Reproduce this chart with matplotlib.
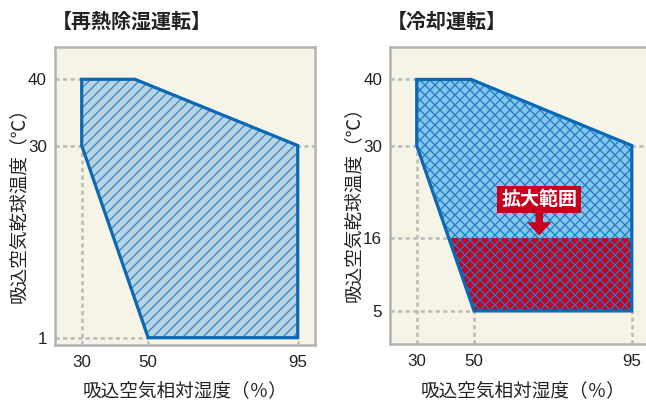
import numpy as np
import matplotlib
matplotlib.use('Agg')
import matplotlib.pyplot as plt
from matplotlib.patches import Polygon

# ---------------- data ----------------
titles = ['【再熱除湿運転】', '【冷却運転】']
ylabel = '吸込空気乾球温度（℃）'
xlabel = '吸込空気相対湿度（％）'

reheat_rh = [30, 46, 95, 95, 50, 30]
reheat_temp = [40, 40, 30, 1, 1, 30]
cool_rh = [30, 49, 95, 95, 50, 30]
cool_temp = [40, 40, 30, 5, 5, 30]
expanded_rh = [41.3, 95, 95, 50]
expanded_temp = [16, 16, 5, 5]

reheat_xticks = [30, 50, 95]
reheat_yticks = [1, 30, 40]
cool_xticks = [30, 50, 95]
cool_yticks = [5, 16, 30, 40]
callout_label = '拡大範囲'
full_guide_temp = 30   # guide line that runs across the whole panel

# ---------------- style ----------------
DPI = 120
W, H = 646, 402


def pt(px):
    return px * 72 / DPI


CJK = ['Noto Sans CJK JP', 'DejaVu Sans']
NUM = ['Liberation Sans', 'DejaVu Sans']
BG = '#F6F4E6'
SPINE = '#B4B4B4'
GRID = '#BCBCBC'
EDGE = '#0A68B4'
TXT = '#222222'
RED = '#C8001E'

fig = plt.figure(figsize=(W / DPI, H / DPI), dpi=DPI)
fig.patch.set_facecolor('white')

ax1 = fig.add_axes([55 / W, 1 - 345 / H, 260 / W, 298 / H])
ax2 = fig.add_axes([390 / W, 1 - 344 / H, 266 / W, 297 / H])

# right panel has a compressed 30-50 % range
XA = np.array([-1000.0, 30.0, 50.0, 95.0, 1000.0])
PA = np.array([416.7 - 1030 * 2.865, 416.7, 474.0, 631.7, 631.7 + 905 * 3.504])
ax2.set_xscale('function', functions=(lambda x: np.interp(x, XA, PA),
                                      lambda p: np.interp(p, PA, XA)))

ax1.set_xlim(21.96, 100.2)
ax1.set_ylim(-0.1, 44.87)
ax2.set_xlim(20.68, 101.9)
ax2.set_ylim(0.0, 44.9)


def style_axes(ax, xt, yt, lab_x_off, lab_y_off):
    ax.set_facecolor(BG)
    for s in ax.spines.values():
        s.set_color(SPINE)
        s.set_linewidth(pt(2.5))
    ax.set_xticks(xt)
    ax.set_yticks(yt)
    ax.set_xticklabels([str(v) for v in xt], fontfamily=NUM, fontsize=pt(17), color=TXT)
    ax.set_yticklabels([str(v) for v in yt], fontfamily=NUM, fontsize=pt(17), color=TXT)
    ax.tick_params(axis='both', length=0)
    ax.tick_params(axis='y', pad=pt(8))
    ax.tick_params(axis='x', pad=pt(10))
    ax.minorticks_off()
    ax.set_ylabel(ylabel, fontfamily=CJK, fontsize=pt(18.6), color=TXT)
    ax.set_xlabel(xlabel, fontfamily=CJK, fontsize=pt(18.6), color=TXT)
    ax.yaxis.set_label_coords(lab_x_off, 0.485)
    ax.xaxis.set_label_coords(0.5, lab_y_off)
    ax.xaxis.label.set_va('top')


style_axes(ax1, reheat_xticks, reheat_yticks, -27 / 260, (345 - 382) / 298)
style_axes(ax2, cool_xticks, cool_yticks, -27 / 266, (344 - 382) / 297)


def guides(ax, rh, temp, xticks, yticks, extra=None):
    x0, x1 = ax.get_xlim()
    y0, _ = ax.get_ylim()
    verts = list(zip(rh, temp)) + (list(extra) if extra else [])
    for yv in yticks:
        xs = [vx for vx, vy in verts if vy == yv]
        xe = x1 - 0.45 if yv == full_guide_temp else min(xs)
        ax.plot([x0, xe], [yv, yv], color=GRID, lw=pt(2.6),
                dashes=(1.6, 1.3), zorder=1, solid_capstyle='butt')
    for xv in xticks:
        ys = [vy for vx, vy in verts if vx == xv]
        ax.plot([xv, xv], [y0, min(ys)], color=GRID, lw=pt(2.6),
                dashes=(1.6, 1.3), zorder=1)


guides(ax1, reheat_rh, reheat_temp, reheat_xticks, reheat_yticks)
guides(ax2, cool_rh, cool_temp, cool_xticks, cool_yticks,
       extra=list(zip(expanded_rh, expanded_temp)))

plt.rcParams['hatch.linewidth'] = pt(1.3)


def region(ax, rh, temp, face, hatch, hatch_color, extra=None):
    pts = np.column_stack([rh, temp])
    ax.add_patch(Polygon(pts, closed=True, facecolor=face, edgecolor='none', zorder=2))
    if extra is not None:
        epts = np.column_stack(extra[0:2])
        ax.add_patch(Polygon(epts, closed=True, facecolor=extra[2], edgecolor='none', zorder=2.5))
    ax.add_patch(Polygon(pts, closed=True, facecolor='none', edgecolor=hatch_color,
                         lw=0, hatch=hatch, zorder=3))
    ax.add_patch(Polygon(pts, closed=True, fill=False, edgecolor=EDGE,
                         lw=pt(3.2), joinstyle='miter', zorder=4))


region(ax1, reheat_rh, reheat_temp, '#B6D4E4', '////', '#3C86C4')
region(ax2, cool_rh, cool_temp, '#80C8EE', 'xxxx', '#2A78C0',
       extra=(expanded_rh, expanded_temp, RED))

# callout
ax2.annotate(callout_label, xy=(68.6, 16.4), xytext=(68.6, 21.85),
             ha='center', va='center', color='white', fontfamily=CJK,
             fontsize=pt(19), fontweight='bold', zorder=6,
             bbox=dict(boxstyle='square,pad=0.2', fc=RED, ec='none'),
             arrowprops=dict(arrowstyle=f'simple,head_width={pt(24.6)},head_length={pt(13.3)},tail_width={pt(7.5)}',
                             mutation_scale=1, fc=RED, ec='none', shrinkA=0, shrinkB=0))

# titles
fig.text(52 / W, 1 - 21 / H, titles[0], fontfamily=CJK, fontsize=pt(20),
         fontweight='bold', color=TXT, ha='left', va='center')
fig.text(387 / W, 1 - 21 / H, titles[1], fontfamily=CJK, fontsize=pt(20),
         fontweight='bold', color=TXT, ha='left', va='center')

fig.savefig('out.png', dpi=DPI)
